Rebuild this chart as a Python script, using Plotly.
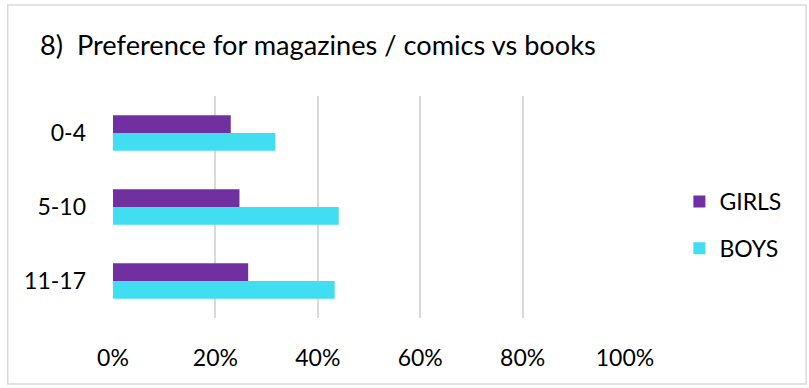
import plotly.graph_objects as go

# Age groups and share of children preferring magazines / comics over books
age_groups = ["0-4", "5-10", "11-17"]
girls = [0.230, 0.247, 0.264]
boys = [0.317, 0.441, 0.433]
x_ticks = [0, 0.2, 0.4, 0.6, 0.8, 1.0]
x_tick_labels = ["0%", "20%", "40%", "60%", "80%", "100%"]

FONT = "Lato, Calibri, Carlito, sans-serif"
GRID = "#D9D9D9"

fig = go.Figure()
fig.add_trace(go.Bar(
    y=age_groups, x=girls, name="GIRLS", orientation="h",
    marker=dict(color="#7030A0", line=dict(width=0)),
    legendgroup="g",
))
fig.add_trace(go.Bar(
    y=age_groups, x=boys, name="BOYS", orientation="h",
    marker=dict(color="#41DDF1", line=dict(width=0)),
    legendgroup="b",
))

L, R, T, B = 112.5, 183.5, 96, 70
W, H = 809, 388
pw, ph = W - L - R, H - T - B

fig.update_layout(
    width=W, height=H,
    margin=dict(l=L, r=R, t=T, b=B),
    paper_bgcolor="white", plot_bgcolor="white",
    barmode="group", bargap=0.523, bargroupgap=0,
    font=dict(family=FONT, color="#000000", size=23),
    title=dict(
        text="8)\u00a0\u00a0Preference for magazines / comics vs books",
        font=dict(family=FONT, size=27.2, color="#000000"),
        x=40 / W, xanchor="left", xref="container",
        y=1 - 45 / H, yanchor="middle", yref="container",
    ),
    xaxis=dict(
        range=[0, 1], tickvals=x_ticks, ticktext=x_tick_labels,
        showgrid=True, gridcolor=GRID, gridwidth=1.5,
        zeroline=False, showline=False, ticks="",
        ticklabelstandoff=24,
        tickfont=dict(size=23),
        fixedrange=True,
    ),
    yaxis=dict(
        autorange="reversed", showgrid=False, zeroline=False,
        showline=False, ticks="", ticklabelstandoff=26,
        tickfont=dict(size=23),
        fixedrange=True,
    ),
    legend=dict(
        x=1 + (680 - (W - R)) / pw, xanchor="left",
        y=(H - B - 180) / ph, yanchor="top",
        traceorder="grouped", tracegroupgap=14,
        font=dict(size=23), bgcolor="rgba(0,0,0,0)",
    ),
    shapes=[dict(
        type="rect", xref="paper", yref="paper",
        x0=(7 - L) / pw, x1=(807 - L) / pw,
        y0=(H - B - 384) / ph, y1=(H - B - 5) / ph,
        line=dict(color=GRID, width=1.5), layer="below",
    )],
)

fig.write_html("out.html")
